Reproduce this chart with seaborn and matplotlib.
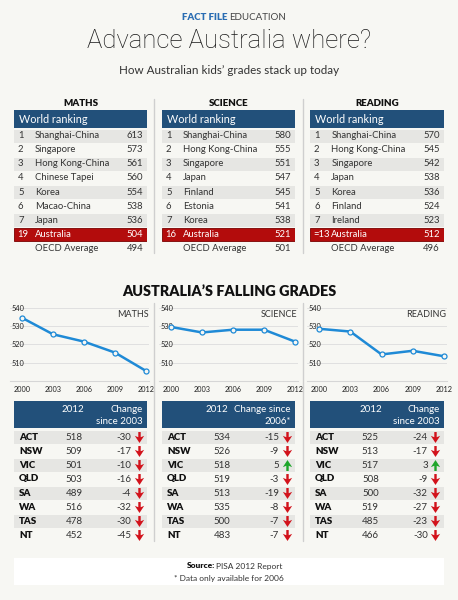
import matplotlib
matplotlib.use('Agg')
import matplotlib.pyplot as plt
from matplotlib.path import Path
from matplotlib.patches import Rectangle
import seaborn as sns
import pandas as pd

# ---- data ----
maths_countries = ['Shanghai-China', 'Singapore', 'Hong Kong-China', 'Chinese Tapei', 'Korea', 'Macao-China', 'Japan']
maths_scores = [613, 573, 561, 560, 554, 538, 536]
science_countries = ['Shanghai-China', 'Hong Kong-China', 'Singapore', 'Japan', 'Finland', 'Estonia', 'Korea']
science_scores = [580, 555, 551, 547, 545, 541, 538]
reading_countries = ['Shanghai-China', 'Hong Kong-China', 'Singapore', 'Japan', 'Korea', 'Finland', 'Ireland']
reading_scores = [570, 545, 542, 538, 536, 524, 523]
aus_rank = {'maths': '19', 'science': '16', 'reading': '=13'}
aus_score = {'maths': 504, 'science': 521, 'reading': 512}
oecd_avg = {'maths': 494, 'science': 501, 'reading': 496}

years = [2000, 2003, 2006, 2009, 2012]
maths_trend = [534.5, 525.5, 521.5, 515.5, 505.5]
science_trend = [529.5, 526.5, 528, 528, 521.5]
reading_trend = [528.5, 527, 514.5, 516.5, 513.5]

states = ['ACT', 'NSW', 'VIC', 'QLD', 'SA', 'WA', 'TAS', 'NT']
maths_2012 = [518, 509, 501, 503, 489, 516, 478, 452]
maths_change = [-30, -17, -10, -16, -4, -32, -30, -45]
science_2012 = [534, 526, 518, 519, 513, 535, 500, 483]
science_change = [-15, -9, 5, -3, -19, -8, -7, -7]
reading_2012 = [525, 513, 517, 508, 500, 519, 485, 466]
reading_change = [-24, -17, 3, -9, -32, -27, -23, -30]

# ---- style ----
BG = '#f7f7f3'
BLUE = '#22507a'
GREY = '#e6e6e3'
RED = '#b30c0c'
LINE = '#1f8ad6'
TXT = '#333333'
SEP = '#cfcfcf'

sns.set_theme(style='white')
plt.rcParams['font.family'] = ['Lato', 'DejaVu Sans']

W, H = 458, 600
fig = plt.figure(figsize=(W / 100, H / 100), dpi=100, facecolor=BG)


def px_axes(x0, y0, x1, y1):
    ax = fig.add_axes([x0 / W, 1 - y1 / H, (x1 - x0) / W, (y1 - y0) / H])
    ax.set_facecolor('none')
    return ax


def fx(x):
    return x / W


def fy(y):
    return 1 - y / H


# titles
fig.text(fx(227), fy(18), 'FACT FILE', color='#2a6db3', fontsize=7, fontweight='heavy', ha='right', va='center')
fig.text(fx(229), fy(18), 'EDUCATION', color='#444444', fontsize=7, ha='left', va='center')
fig.text(fx(229), fy(41), 'Advance Australia where?', color='#1a1a1a', fontsize=18.5,
         family=['Roboto', 'DejaVu Sans'], fontweight='light', ha='center', va='center')
fig.text(fx(229), fy(71), 'How Australian kids\u2019 grades stack up today', color=TXT, fontsize=8.4, ha='center', va='center')
fig.text(fx(229), fy(291), 'AUSTRALIA\u2019S FALLING GRADES', color='#111111', fontsize=10.4, fontweight='heavy', ha='center', va='center')

# separators
for x in (154, 303):
    fig.add_artist(plt.Line2D([fx(x), fx(x)], [fy(99), fy(253)], color=SEP, lw=1))
    fig.add_artist(plt.Line2D([fx(x), fx(x)], [fy(303), fy(541)], color=SEP, lw=1))


def draw_ranking(ax, title, countries, scores, key):
    ax.set_xlim(0, 133)
    ax.set_ylim(146, 0)
    ax.axis('off')
    ax.text(66.5, -7, title, ha='center', va='center', fontsize=7, fontweight='heavy', color='#111111')
    ax.axhspan(0, 18, color=BLUE, lw=0)
    ax.text(5, 9.5, 'World ranking', color='white', fontsize=7.8, va='center')
    for i, (c, s) in enumerate(zip(countries, scores)):
        cy = 26 + 14 * i
        if i % 2 == 0:
            ax.axhspan(cy - 6.5, cy + 6.5, color=GREY, lw=0)
        ax.text(4, cy, str(i + 1), fontsize=6.8, va='center', color=TXT)
        ax.text(21, cy, c, fontsize=6.8, va='center', color=TXT)
        ax.text(129, cy, str(s), fontsize=6.8, va='center', ha='right', color=TXT)
    cy = 26 + 14 * 7
    ax.axhspan(cy - 6.5, cy + 6.5, facecolor=RED, edgecolor='#7a0000', lw=0.6)
    ax.text(3, cy, aus_rank[key], fontsize=6.8, va='center', color='white')
    ax.text(21, cy, 'Australia', fontsize=6.8, va='center', color='white')
    ax.text(129, cy, str(aus_score[key]), fontsize=6.8, va='center', ha='right', color='white')
    cy = 26 + 14 * 8
    ax.text(21, cy, 'OECD Average', fontsize=6.8, va='center', color=TXT)
    ax.text(129, cy, str(oecd_avg[key]), fontsize=6.8, va='center', ha='right', color=TXT)


draw_ranking(px_axes(14, 110, 147, 256), 'MATHS', maths_countries, maths_scores, 'maths')
draw_ranking(px_axes(162, 110, 295, 256), 'SCIENCE', science_countries, science_scores, 'science')
draw_ranking(px_axes(310, 110, 444, 256), 'READING', reading_countries, reading_scores, 'reading')


def draw_trend(ax, label, values):
    df = pd.DataFrame({'year': years, 'score': values})
    ax.yaxis.grid(True, color='#e0e0e0', lw=0.7)
    sns.lineplot(data=df, x='year', y='score', ax=ax, color=LINE, lw=1.8,
                 marker='o', markersize=3.6, markerfacecolor=BG,
                 markeredgecolor=LINE, markeredgewidth=0.9, zorder=3)
    ax.set_xlim(2000 - 12 / 10.33, 2012 + 3 / 10.33)
    ax.set_ylim(500, 544)
    ax.set_xticks(years)
    ax.set_yticks([510, 520, 530, 540])
    ax.set_xlabel('')
    ax.set_ylabel('')
    for s in ('top', 'right', 'left'):
        ax.spines[s].set_visible(False)
    ax.spines['bottom'].set_color('#d6d6d6')
    ax.spines['bottom'].set_linewidth(0.8)
    ax.tick_params(axis='x', length=0, pad=3.5, labelsize=5.3, labelcolor='#222222')
    ax.tick_params(axis='y', length=0, pad=-1, labelsize=5.3, labelcolor='#222222')
    for t in ax.get_yticklabels():
        t.set_horizontalalignment('left')
    ax.text(0.995, 0.83, label, transform=ax.transAxes, ha='right', va='center', fontsize=6.5, color=TXT)


draw_trend(px_axes(10, 300.4, 149, 381), 'MATHS', maths_trend)
draw_trend(px_axes(159, 300.4, 298, 381), 'SCIENCE', science_trend)
draw_trend(px_axes(307, 300.4, 447, 381), 'READING', reading_trend)

down = Path([(-0.22, 1), (0.22, 1), (0.22, 0.05), (0.85, 0.3), (0, -1), (-0.85, 0.3), (-0.22, 0.05), (-0.22, 1)],
            [Path.MOVETO] + [Path.LINETO] * 6 + [Path.CLOSEPOLY])
up = Path([(x, -y) for x, y in down.vertices], down.codes)


def draw_states(ax, head_lines, vals, changes):
    ax.set_xlim(0, 133)
    ax.set_ylim(141, 0)
    ax.axis('off')
    ax.axhspan(0, 27, color=BLUE, lw=0)
    for txt, x, y, ha in head_lines:
        ax.text(x, y, txt, color='white', fontsize=7, ha=ha, va='center')
    centers = [36 + 14 * i for i in range(len(states))]
    for i, (st, v, c) in enumerate(zip(states, vals, changes)):
        cy = centers[i]
        if i % 2 == 0:
            ax.axhspan(cy - 6.5, cy + 6.5, color=GREY, lw=0)
        ax.text(5, cy, st, fontsize=7, fontweight='heavy', va='center', color='#111111')
        ax.text(60, cy, str(v), fontsize=7, va='center', ha='center', color=TXT)
        ax.text(117, cy, str(c), fontsize=7, va='center', ha='right', color=TXT)
    dn = [centers[i] for i, c in enumerate(changes) if c < 0]
    upc = [centers[i] for i, c in enumerate(changes) if c > 0]
    ax.scatter([124.5] * len(dn), dn, marker=down, s=62, color='#d2121b', lw=0, clip_on=False)
    ax.scatter([124.5] * len(upc), upc, marker=up, s=62, color='#1ea62a', lw=0, clip_on=False)


draw_states(px_axes(14, 401, 147, 542),
            [('2012', 59, 9, 'center'), ('Change', 129, 9, 'right'), ('since 2003', 129, 21, 'right')],
            maths_2012, maths_change)
draw_states(px_axes(162, 401, 295, 542),
            [('2012', 55, 9, 'center'), ('Change since', 129, 9, 'right'), ('2006*', 129, 21, 'right')],
            science_2012, science_change)
draw_states(px_axes(310, 401, 444, 542),
            [('2012', 60, 9, 'center'), ('Change', 129, 9, 'right'), ('since 2003', 129, 21, 'right')],
            reading_2012, reading_change)

# source box
fig.add_artist(Rectangle((fx(14), fy(585)), fx(430), (585 - 558) / H, facecolor='white', edgecolor='none'))
fig.text(fx(215), fy(566), 'Source:', fontsize=6, fontweight='heavy', ha='right', va='center', color='#111111')
fig.text(fx(216.5), fy(566), 'PISA 2012 Report', fontsize=6, ha='left', va='center', color=TXT)
fig.text(fx(229), fy(578), '* Data only available for 2006', fontsize=6, ha='center', va='center', color=TXT)

fig.savefig('out.png', dpi=100, facecolor=BG)
